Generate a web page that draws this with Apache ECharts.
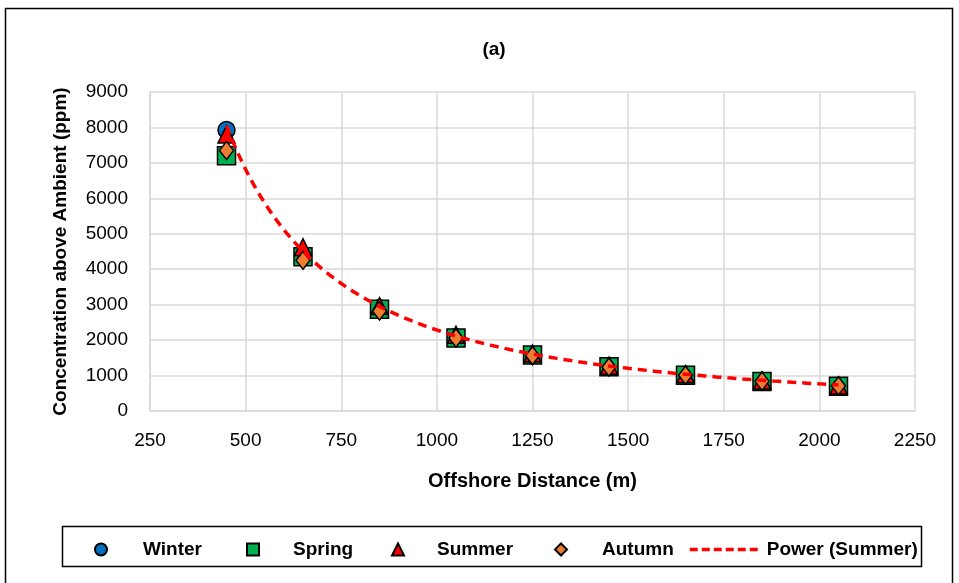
<!DOCTYPE html>
<html>
<head>
<meta charset="utf-8">
<script src="https://cdn.jsdelivr.net/npm/echarts@6/dist/echarts.min.js"></script>
<style>
  html, body { margin: 0; padding: 0; background: #fff; }
  #chart { width: 959px; height: 583px; }
</style>
</head>
<body>
<div id="chart"></div>
<script>
// Offshore sampling distances (m)
const distances = [450, 650, 850, 1050, 1250, 1450, 1650, 1850, 2050];

// Concentration above ambient (ppm) per season
const winter = [7930, 4400, 2900, 2080, 1590, 1260, 1020, 850, 710];
const spring = [7200, 4350, 2870, 2060, 1580, 1250, 1010, 830, 700];
const summer = [7800, 4620, 2960, 2150, 1620, 1280, 1040, 860, 720];
const autumn = [7350, 4250, 2820, 2060, 1560, 1240, 1010, 840, 710];

const xTicks = { min: 250, max: 2250, step: 250 };
const yTicks = { min: 0, max: 9000, step: 1000 };

const FONT = "'Liberation Sans', Arial, sans-serif";

// Power-law trendline y = a * x^b fitted to the summer series (least squares in log space)
function powerFit(xs, ys) {
  const n = xs.length;
  let sx = 0, sy = 0, sxx = 0, sxy = 0;
  for (let i = 0; i < n; i++) {
    const lx = Math.log(xs[i]), ly = Math.log(ys[i]);
    sx += lx; sy += ly; sxx += lx * lx; sxy += lx * ly;
  }
  const b = (n * sxy - sx * sy) / (n * sxx - sx * sx);
  const a = Math.exp((sy - b * sx) / n);
  return x => a * Math.pow(x, b);
}
const fit = powerFit(distances, summer);
const trend = [];
for (let x = distances[0]; x <= distances[distances.length - 1]; x += 10) {
  trend.push([x, fit(x)]);
}

const pairs = ys => distances.map((x, i) => [x, ys[i]]);
const markerStyle = color => ({ color: color, borderColor: '#000', borderWidth: 1.5, opacity: 1 });
const trendLine = { color: '#FF0000', width: 3.5, type: [9, 6] };

const chart = echarts.init(document.getElementById('chart'), null, { renderer: 'canvas' });

// one legend block per entry so each sits at its own spot in the boxed legend row
function legendAt(entry, left, gap, iconW) {
  return {
    data: [entry],
    left: left,
    top: 535,
    itemWidth: iconW || 12,
    itemHeight: 12,
    textStyle: {
      fontFamily: FONT, fontWeight: 'bold', fontSize: 19, color: '#000',
      padding: [0, 0, 0, gap]
    },
    selectedMode: false
  };
}

chart.setOption({
  animation: false,
  backgroundColor: '#fff',
  title: {
    text: '(a)',
    left: 489,
    top: 35,
    textAlign: 'center',
    textStyle: { fontFamily: FONT, fontWeight: 'bold', fontSize: 19, color: '#000' }
  },
  graphic: [
    {
      type: 'rect',
      shape: { x: 5.5, y: 8.5, width: 947, height: 600 },
      style: { fill: null, stroke: '#000', lineWidth: 1.5 },
      silent: true
    },
    {
      type: 'rect',
      shape: { x: 62.5, y: 526.5, width: 859, height: 40 },
      style: { fill: null, stroke: '#000', lineWidth: 1.5 },
      silent: true
    }
  ],
  legend: [
    legendAt('Winter', 89, 31),
    legendAt('Spring', 241, 29),
    legendAt('Summer', 386, 28),
    legendAt('Autumn', 549, 30),
    legendAt({
      name: 'Power (Summer)',
      itemStyle: { color: 'rgba(0,0,0,0)', borderWidth: 0 },
      lineStyle: { color: '#FF0000', width: 3.5, type: [8, 4] }
    }, 683, 0, 72)
  ],
  grid: { left: 150, right: 44, top: 92, bottom: 172, containLabel: false },
  xAxis: {
    type: 'value',
    min: xTicks.min,
    max: xTicks.max,
    interval: xTicks.step,
    name: 'Offshore Distance (m)',
    nameLocation: 'middle',
    nameGap: 60,
    nameTextStyle: { fontFamily: FONT, fontWeight: 'bold', fontSize: 20, color: '#000' },
    axisLine: { show: true, lineStyle: { color: '#d9d9d9', width: 1.5 } },
    axisTick: { show: false },
    axisLabel: { fontFamily: FONT, fontSize: 19, color: '#000', margin: 20, formatter: v => String(v) },
    splitLine: { show: true, lineStyle: { color: '#d9d9d9', width: 1.5 } }
  },
  yAxis: {
    type: 'value',
    min: yTicks.min,
    max: yTicks.max,
    interval: yTicks.step,
    name: 'Concentration above Ambient (ppm)',
    nameLocation: 'middle',
    nameGap: 80,
    nameTextStyle: { fontFamily: FONT, fontWeight: 'bold', fontSize: 19, color: '#000' },
    axisLine: { show: true, lineStyle: { color: '#d9d9d9', width: 1.5 } },
    axisTick: { show: false },
    axisLabel: { fontFamily: FONT, fontSize: 19, color: '#000', margin: 22, formatter: v => String(v) },
    splitLine: { show: true, lineStyle: { color: '#d9d9d9', width: 1.5 } }
  },
  series: [
    {
      name: 'Winter', type: 'scatter', symbol: 'circle', symbolSize: 17,
      itemStyle: markerStyle('#0070C0'), data: pairs(winter), z: 2
    },
    {
      name: 'Spring', type: 'scatter', symbol: 'rect', symbolSize: 18,
      itemStyle: markerStyle('#00B050'), data: pairs(spring), z: 3
    },
    {
      name: 'Summer', type: 'scatter', symbol: 'triangle', symbolSize: 17,
      itemStyle: markerStyle('#FF0000'), data: pairs(summer), z: 4
    },
    {
      name: 'Autumn', type: 'scatter', symbol: 'diamond', symbolSize: [14, 18],
      itemStyle: markerStyle('#ED7D31'), data: pairs(autumn), z: 5
    },
    {
      name: 'Power (Summer)', type: 'line', symbol: 'none', smooth: false,
      lineStyle: trendLine,
      itemStyle: { color: '#FF0000' },
      data: trend, z: 6
    }
  ]
});
</script>
</body>
</html>
